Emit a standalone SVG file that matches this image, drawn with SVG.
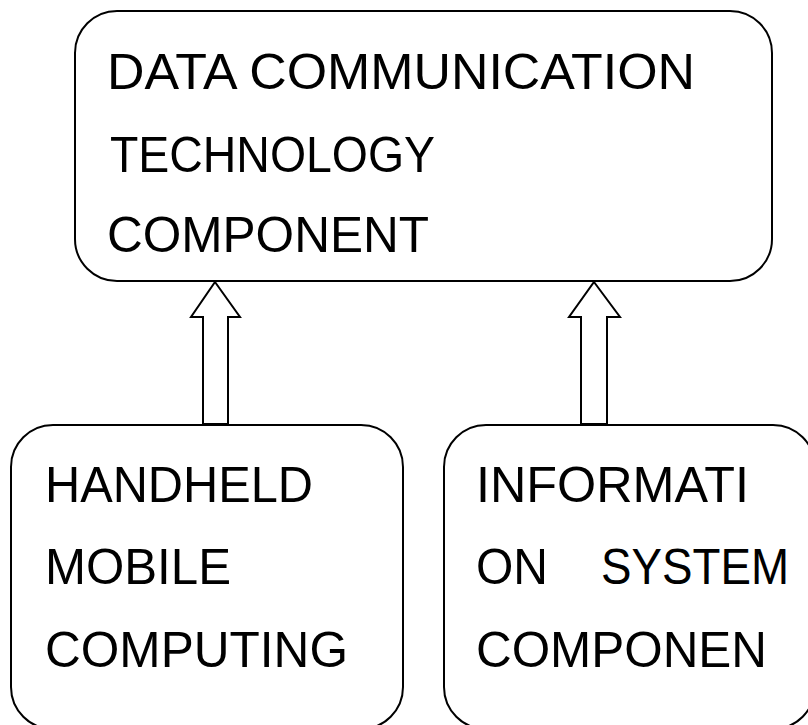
<svg xmlns="http://www.w3.org/2000/svg" width="808" height="725" viewBox="0 0 808 725">
<style>
.box{fill:#fff;stroke:#000;stroke-width:2}
.arr{fill:#fff;stroke:#000;stroke-width:2;stroke-linejoin:miter}
.t{font-family:"Liberation Sans",Arial,sans-serif;font-size:50px;fill:#000}
</style>
<rect width="808" height="725" fill="#fff"/>
<g id="node-top">
<rect class="box" x="75" y="11" width="697" height="270" rx="42" ry="42"/>
<text class="t" x="107" y="89" textLength="588" lengthAdjust="spacingAndGlyphs">DATA COMMUNICATION</text>
<text class="t" x="110" y="172" textLength="325" lengthAdjust="spacingAndGlyphs">TECHNOLOGY</text>
<text class="t" x="107" y="252" textLength="322" lengthAdjust="spacingAndGlyphs">COMPONENT</text>
</g>
<g id="node-left">
<rect class="box" x="11" y="425" width="392" height="304" rx="42" ry="42"/>
<text class="t" x="45" y="502" textLength="268" lengthAdjust="spacingAndGlyphs">HANDHELD</text>
<text class="t" x="45" y="584" textLength="186" lengthAdjust="spacingAndGlyphs">MOBILE</text>
<text class="t" x="45" y="667" textLength="303" lengthAdjust="spacingAndGlyphs">COMPUTING</text>
</g>
<g id="node-right">
<rect class="box" x="444" y="425" width="371" height="304" rx="42" ry="42"/>
<text class="t" x="476" y="502" textLength="273" lengthAdjust="spacingAndGlyphs">INFORMATI</text>
<text class="t" x="476" y="584" textLength="72" lengthAdjust="spacingAndGlyphs">ON</text>
<text class="t" x="601" y="584" textLength="188" lengthAdjust="spacingAndGlyphs">SYSTEM</text>
<text class="t" x="476" y="667" textLength="291" lengthAdjust="spacingAndGlyphs">COMPONEN</text>
</g>
<g id="connectors">
<polygon class="arr" points="215,282 240,317 228,317 228,424 203,424 203,317 191,317"/>
<polygon class="arr" points="594,282 620,317 607,317 607,424 581,424 581,317 569,317"/>
</g>
</svg>
